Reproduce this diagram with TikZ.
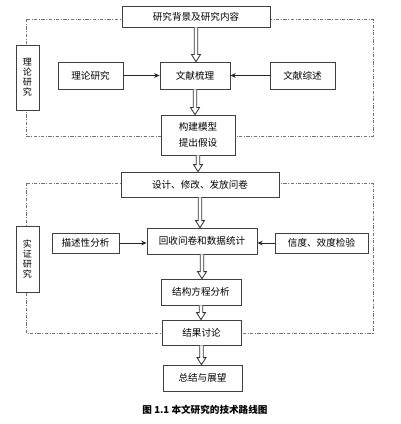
\documentclass[tikz,border=0pt]{standalone}
\usepackage{fontspec}
\newfontfamily\cjk{Noto Sans CJK SC}
\usetikzlibrary{arrows.meta, positioning, calc}

%% hollow down arrow from the bottom of #1 to the top of #2
\newcommand{\flowarrow}[2]{%
  \path (#1.south |- #2.north) coordinate (tip);
  \draw[flowline] ($(#1.south)+(-1.8,0)$) -- ($(tip)+(-1.8,-7)$) -- ($(tip)+(-4.5,-7)$)
    -- (tip) -- ($(tip)+(4.5,-7)$) -- ($(tip)+(1.8,-7)$) -- ($(#1.south)+(1.8,0)$);}

\begin{document}
\begin{tikzpicture}[x=0.75pt, y=-0.75pt,
  box/.style={draw=black!75, line width=0.6pt, fill=white, inner sep=1pt, align=center, font=\cjk\fontsize{7.2}{9}\selectfont},
  sidebox/.style={box, font=\cjk\fontsize{6.8}{7.4}\selectfont, minimum width=17.25pt},
  frame/.style={draw=black!55, line width=0.5pt, dash pattern=on 2.5pt off 1.2pt on 0.6pt off 1.2pt},
  flowline/.style={draw=black!80, line width=0.6pt, fill=white, line join=miter},
  feed/.style={draw=black!85, line width=0.6pt, -{Stealth[length=4pt, width=3.5pt]}}]
  \useasboundingbox (0,0) rectangle (400,424);
  %% Dashed frames (drawn first, boxes sit on top)
  \draw[frame] (26,19) rectangle (373,136);
  \draw[frame] (26,183) rectangle (373,333);
  %% Side labels
  \node[sidebox, minimum height=48.75pt] (theo) at (27.5,77.5) {理\\论\\研\\究};
  \node[sidebox, minimum height=49.5pt] (emp) at (27.5,259) {实\\证\\研\\究};
  %% Theory part
  \node[box, minimum width=111pt, minimum height=15.75pt] (bg) at (196,16.5) {研究背景及研究内容};
  \node[box, minimum width=48.75pt, minimum height=20.25pt] (lilun) at (90.5,75.5) {理论研究};
  \node[box, minimum width=52.5pt, minimum height=20.25pt] (sort) at (195,75.5) {文献梳理};
  \node[box, minimum width=48.75pt, minimum height=20.25pt] (review) at (302.5,75.5) {文献综述};
  \node[box, minimum width=55.5pt, minimum height=30pt] (model) at (198,135) {构建模型\\[2.5pt]提出假设};
  %% Empirical part
  \node[box, minimum width=118.5pt, minimum height=18.75pt] (design) at (200,184.5) {设计、修改、发放问卷};
  \node[box, minimum width=50.25pt, minimum height=15pt] (desc) at (85.5,243) {描述性分析};
  \node[box, minimum width=82.5pt, minimum height=19.5pt] (collect) at (202,241) {回收问卷和数据统计};
  \node[box, minimum width=69.75pt, minimum height=15pt] (reli) at (321.5,243) {信度、效度检验};
  \node[box, minimum width=60pt, minimum height=19.5pt] (sem) at (201,292) {结构方程分析};
  \node[box, minimum width=59.25pt, minimum height=18.75pt] (disc) at (201.5,332.5) {结果讨论};
  \node[box, minimum width=59.25pt, minimum height=19.5pt] (concl) at (202.5,378) {总结与展望};
  %% Main flow
  \flowarrow{bg}{sort}
  \flowarrow{sort}{model}
  \flowarrow{model}{design}
  \flowarrow{design}{collect}
  \flowarrow{collect}{sem}
  \flowarrow{sem}{disc}
  \flowarrow{disc}{concl}
  %% Side inputs
  \draw[feed] (lilun) -- (sort);
  \draw[feed] (review) -- (sort);
  \draw[feed] (desc) -- (desc -| collect.west);
  \draw[feed] (reli) -- (reli -| collect.east);
  %% Caption
  \node[font=\cjk\bfseries\fontsize{7.2}{9}\selectfont] (cap) at (205,410) {图 1.1\ 本文研究的技术路线图};
\end{tikzpicture}
\end{document}
